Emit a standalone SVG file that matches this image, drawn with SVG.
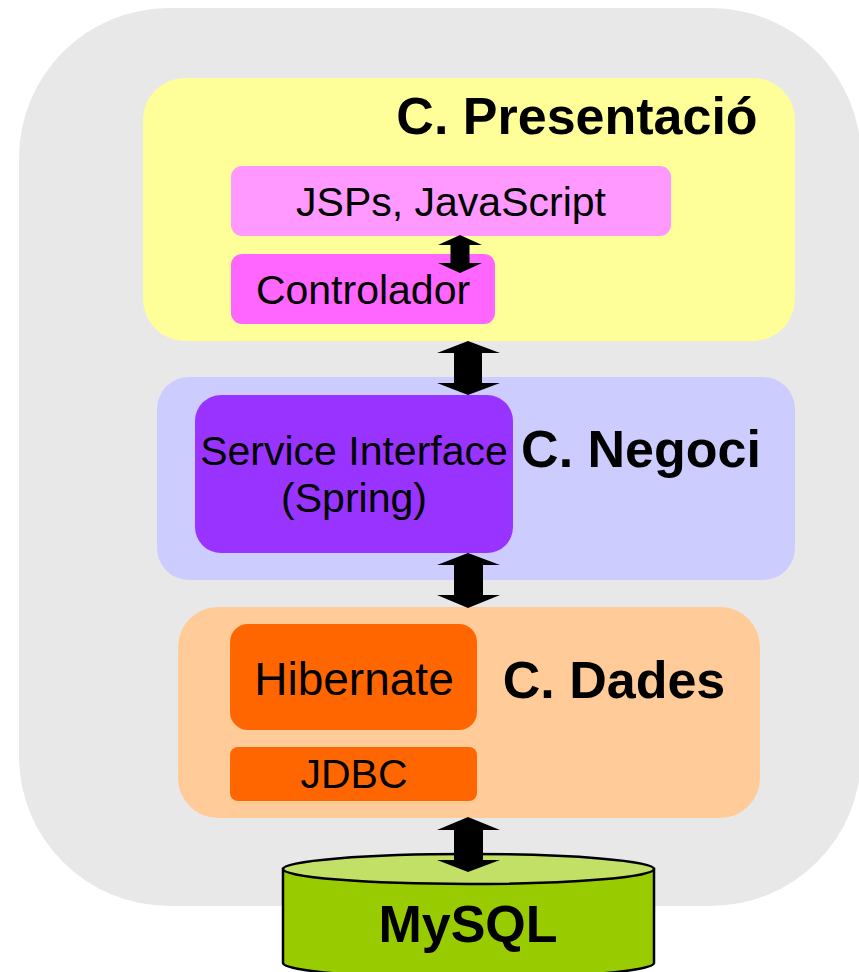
<svg xmlns="http://www.w3.org/2000/svg" width="859" height="972" viewBox="0 0 859 972">
<style>
.t{font-family:"Liberation Sans",Arial,sans-serif;fill:#000;text-anchor:middle}
.r{font-size:41px}
.b{font-size:52px;font-weight:bold}
.arr{fill:#000}
</style>
<rect width="859" height="972" fill="#fff"/>
<rect id="bg" x="19" y="8" width="842" height="898" rx="150" ry="150" fill="#E8E8E8"/>
<g id="presentacio">
<rect x="143" y="78" width="652" height="263" rx="42" fill="#FFFF99"/>
<text class="t b" x="577" y="134">C. Presentació</text>
</g>
<g id="jsps">
<rect x="231" y="166" width="440" height="70" rx="11" fill="#FF99FF"/>
<text class="t r" x="451" y="216">JSPs, JavaScript</text>
</g>
<g id="controlador">
<rect x="231" y="254" width="264" height="70" rx="11" fill="#FF66FF"/>
<text class="t r" x="363" y="304">Controlador</text>
</g>
<g id="negoci">
<rect x="157" y="377" width="638" height="203" rx="32" fill="#CCCCFF"/>
<text class="t b" x="641" y="467">C. Negoci</text>
</g>
<g id="service">
<rect x="195" y="395" width="318" height="158" rx="26" fill="#9933FF"/>
<text class="t r" x="354" y="465">Service Interface</text>
<text class="t r" x="354" y="512">(Spring)</text>
</g>
<g id="dades">
<rect x="178" y="607" width="582" height="211" rx="40" fill="#FFCC99"/>
<text class="t b" x="614" y="698">C. Dades</text>
</g>
<g id="hibernate">
<rect x="230" y="624" width="247" height="106" rx="18" fill="#FF6600"/>
<text class="t" style="font-size:46px" x="354" y="695">Hibernate</text>
</g>
<g id="jdbc">
<rect x="230" y="747" width="247" height="54" rx="8" fill="#FF6600"/>
<text class="t r" x="354" y="788">JDBC</text>
</g>
<g id="mysql">
<path d="M283,869 L283,963 A185.5,15 0 0 0 654,963 L654,869 Z" fill="#99CC00" stroke="#000" stroke-width="2.5"/>
<ellipse cx="468.5" cy="869" rx="185.5" ry="15" fill="#C2E066" stroke="#000" stroke-width="2.5"/>
<text class="t b" x="468" y="942">MySQL</text>
</g>
<g id="connectors">
<polygon class="arr" points="460,235 482,245 469.5,245 469.5,263 482,263 460,273 438,263 450.5,263 450.5,245 438,245"/>
<polygon class="arr" points="468,341 500,353 482,353 482,383 500,383 468,395 437,383 454,383 454,353 437,353"/>
<polygon class="arr" points="468,553 500,565 483,565 483,595 500,595 468,608 437,595 454,595 454,565 437,565"/>
<polygon class="arr" points="468,817 500,830 483,830 483,860 500,860 468,872 437,860 454,860 454,830 437,830"/>
</g>
</svg>
